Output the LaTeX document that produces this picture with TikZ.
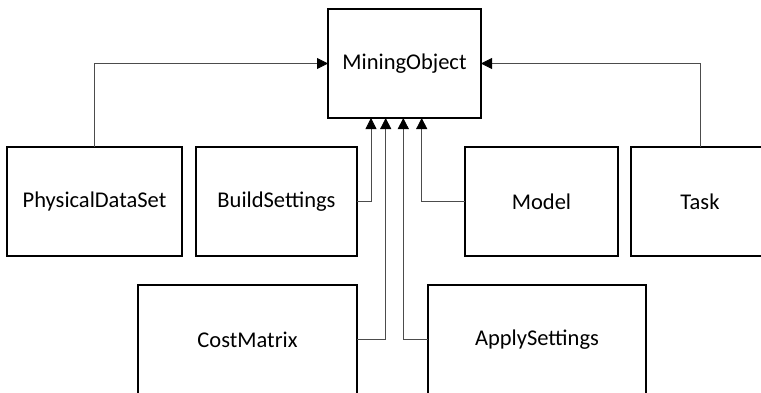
\documentclass[tikz,border=0pt]{standalone}
\usepackage{fontspec}
\setmainfont{Carlito}
\usetikzlibrary{arrows.meta,positioning,calc}

\begin{document}
\begin{tikzpicture}[x=1pt, y=-1pt,
        klasse/.style={draw=black, line width=1.5pt, inner sep=0pt, outer sep=0pt,
                       minimum height=109pt, font=\fontsize{22.5}{27}\selectfont},
        pfeil/.style={draw=black!70, line width=0.8pt,
                      -{Triangle[length=11pt, width=11pt, color=black]}}]
        % Umgebung
        \useasboundingbox (0, 0) rectangle (761, 392);

        % Kästchen
        \node[klasse, minimum width=153pt] (mining) at (404.5, 63.5) {MiningObject};
        \node[klasse, minimum width=175pt] (phys) at (94.5, 201.5) {PhysicalDataSet};
        \node[klasse, minimum width=161pt] (build) at (276.5, 201.5) {BuildSettings};
        \node[klasse, minimum width=153pt] (model) at (541.5, 201.5) {Model};
        \node[klasse, minimum width=138pt] (task) at (700, 201.5) {Task};
        \node[klasse, minimum width=219pt] (cost) at (247.5, 339.5) {CostMatrix};
        \node[klasse, minimum width=218pt] (apply) at (537, 339.5) {ApplySettings};

        % Pfeile
        \draw[pfeil] (phys.north) |- (mining.west);
        \draw[pfeil] (task.north) |- (mining.east);
        \draw[pfeil] (build.east) -| ([xshift=-33.5]mining.south);
        \draw[pfeil] (cost.east) -| ([xshift=-18.8]mining.south);
        \draw[pfeil] (apply.west) -| ([xshift=-1.2]mining.south);
        \draw[pfeil] (model.west) -| ([xshift=17.2]mining.south);

    \end{tikzpicture}
\end{document}
